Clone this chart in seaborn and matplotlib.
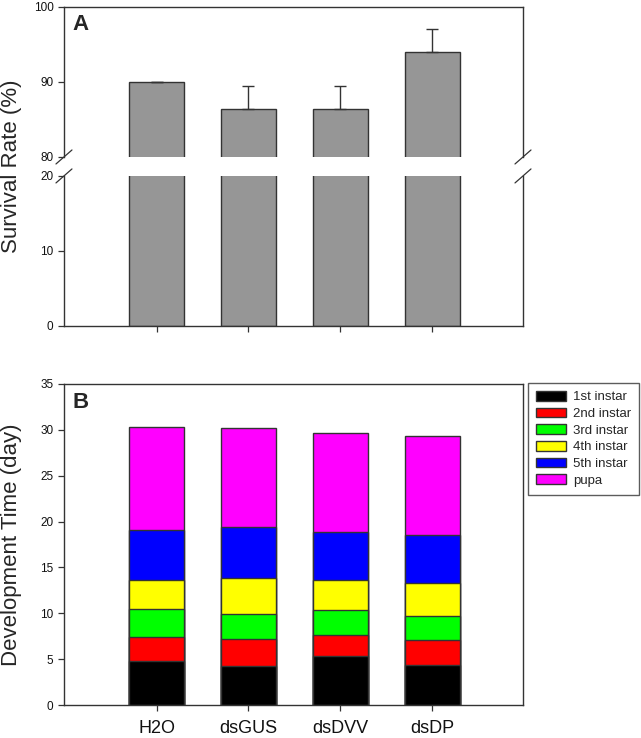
import numpy as np
import pandas as pd
import matplotlib
matplotlib.use("Agg")
import matplotlib.pyplot as plt
import seaborn as sns
from matplotlib.patches import Patch

# Panel A: survival rate (%)
groups = ["H2O", "dsGUS", "dsDVV", "dsDP"]
survival = [90.0, 86.4, 86.4, 94.0]
survival_se = [0.0, 3.1, 3.1, 3.0]

# Panel B: development time (day) per stage
stages = ["1st instar", "2nd instar", "3rd instar", "4th instar", "5th instar", "pupa"]
stage_colors = ["#000000", "#ff0000", "#00ff00", "#ffff00", "#0000ff", "#ff00ff"]
first_instar = [4.82, 4.27, 5.29, 4.37]
second_instar = [2.56, 2.98, 2.33, 2.70]
third_instar = [3.12, 2.63, 2.73, 2.63]
fourth_instar = [3.17, 3.97, 3.25, 3.64]
fifth_instar = [5.43, 5.61, 5.23, 5.24]
pupa = [11.18, 10.72, 10.87, 10.77]

sns.set_theme(style="ticks")
plt.rcParams["font.family"] = ["Liberation Sans", "DejaVu Sans"]
tick_font = ["Liberation Sans Narrow", "Liberation Sans", "DejaVu Sans"]
line_col = "#333333"
plt.rcParams.update({
    "axes.edgecolor": line_col,
    "axes.linewidth": 1.0,
    "xtick.color": line_col,
    "ytick.color": line_col,
    "xtick.major.size": 4,
    "ytick.major.size": 4,
    "xtick.major.width": 0.9,
    "ytick.major.width": 0.9,
    "xtick.labelcolor": "#111111",
    "ytick.labelcolor": "#111111",
})

fig = plt.figure(figsize=(6.41, 7.38), dpi=100)
ax_hi = fig.add_axes([0.0998, 0.7873, 0.7161, 0.2033])
ax_lo = fig.add_axes([0.0998, 0.5583, 0.7161, 0.2033])
ax_b = fig.add_axes([0.0998, 0.0447, 0.7161, 0.4350])

surv = pd.DataFrame({"group": groups, "survival": survival})
for ax in (ax_hi, ax_lo):
    sns.barplot(data=surv, x="group", y="survival", color="#969696", saturation=1,
                width=0.6, edgecolor=line_col, linewidth=1, errorbar=None, ax=ax)
    ax.set_xlim(-1.01, 3.99)
    ax.set_xlabel("")
    ax.set_ylabel("")

# upper half of the error bars only
ax_hi.errorbar(range(len(groups)), survival, yerr=[np.zeros(len(groups)), survival_se],
               fmt="none", ecolor=line_col, elinewidth=1, capsize=4.5, capthick=1)

ax_hi.set_ylim(80, 100)
ax_lo.set_ylim(0, 20)
ax_hi.set_yticks([80, 90, 100])
ax_lo.set_yticks([0, 10, 20])
ax_hi.spines["bottom"].set_visible(False)
ax_lo.spines["top"].set_visible(False)
ax_hi.tick_params(axis="x", bottom=False, labelbottom=False)
ax_lo.tick_params(axis="x", labelbottom=False)

# break marks
d = dict(color=line_col, lw=0.9, clip_on=False)
dx = 8 / 459
dy = 7 / 150
for x0 in (0, 1):
    ax_hi.plot([x0 - dx, x0 + dx], [-dy, dy], transform=ax_hi.transAxes, **d)
    ax_lo.plot([x0 - dx, x0 + dx], [1 - dy, 1 + dy], transform=ax_lo.transAxes, **d)

ax_hi.text(0.0174, 0.95, "A", transform=ax_hi.transAxes, fontsize=16,
           fontweight="bold", va="top", ha="left")

# stacked development time, drawn from the top down
cum = np.cumsum([first_instar, second_instar, third_instar,
                 fourth_instar, fifth_instar, pupa], axis=0)
for i in reversed(range(len(stages))):
    sns.barplot(x=groups, y=cum[i], color=stage_colors[i], saturation=1, width=0.6,
                edgecolor=line_col, linewidth=1, errorbar=None, ax=ax_b)
ax_b.set_xlim(-1.01, 3.99)
ax_b.set_ylim(0, 35)
ax_b.set_yticks(range(0, 36, 5))
ax_b.set_xlabel("")
ax_b.set_ylabel("")
ax_b.tick_params(axis="x", labelsize=13, pad=7)
ax_b.text(0.0196, 0.975, "B", transform=ax_b.transAxes, fontsize=16,
          fontweight="bold", va="top", ha="left")

for ax in (ax_hi, ax_lo, ax_b):
    for lab in ax.get_yticklabels():
        lab.set_family(tick_font)
        lab.set_fontsize(8.5)

handles = [Patch(facecolor=c, edgecolor=line_col, linewidth=1) for c in stage_colors]
leg = fig.legend(handles, stages, loc="upper left", bbox_to_anchor=(528 / 641, 1 - 383 / 738),
                 frameon=True, fancybox=False, edgecolor=line_col, fontsize=9.5,
                 handlelength=2.3, handleheight=0.75, labelspacing=0.32, borderpad=0.6,
                 handletextpad=0.5, borderaxespad=0)
leg.get_frame().set_linewidth(1)

fig.text(12 / 641, 1 - 166 / 738, "Survival Rate (%)", rotation=90,
         va="center", ha="center", fontsize=16)
fig.text(12 / 641, 1 - 545 / 738, "Development Time (day)", rotation=90,
         va="center", ha="center", fontsize=16)

fig.savefig("out.png", dpi=100)
